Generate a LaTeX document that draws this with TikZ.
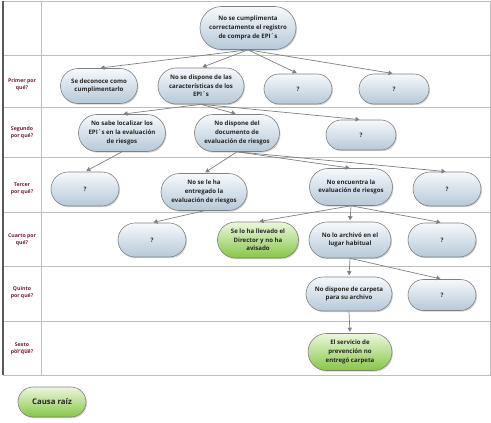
\documentclass[tikz,border=0pt]{standalone}
\usepackage{fontspec}
\setmainfont{Open Sans}
\usetikzlibrary{shapes.misc,shadows,arrows.meta,decorations.pathmorphing}
\definecolor{rahmen}{RGB}{190,190,190}
\definecolor{pfeil}{RGB}{128,128,128}
\definecolor{frage}{RGB}{110,30,50}
\definecolor{blauoben}{RGB}{246,249,252}
\definecolor{blauunten}{RGB}{182,200,216}
\definecolor{gruenoben}{RGB}{236,247,220}
\definecolor{gruenunten}{RGB}{135,198,72}
\tikzset{
  grund/.style={rounded rectangle, draw=pfeil, line width=0.6pt, inner sep=1pt, align=center,
    font=\fontsize{6.1}{8.6}\selectfont\bfseries, text=black!85,
    drop shadow={shadow xshift=1pt, shadow yshift=-1.2pt, opacity=0.35}},
  warum/.style={grund, top color=blauoben, bottom color=blauunten},
  ursache/.style={grund, top color=gruenoben, bottom color=gruenunten},
  frage/.style={align=center, text=frage, font=\fontsize{5.2}{7}\selectfont\bfseries},
  zeiger/.style={draw=pfeil, line width=0.7pt, -{Triangle[width=4.5pt,length=4pt]}, shorten >=1.5pt}
}
\begin{document}
\begin{tikzpicture}[x=1pt,y=1pt]
    \useasboundingbox (0,0) rectangle (491,-423);
    % Tabelle
    \foreach \y in {-55,-107,-157,-212,-266,-321} \draw[rahmen, line width=0.6pt] (3,\y) -- (490,\y);
    \draw[rahmen, line width=0.6pt] (3,-1) -- (490,-1) -- (490,-375) -- (3,-375);         % Rand
    \draw[rahmen, line width=0.6pt] (41,-1) -- (41,-375);                                 % Spalte
    \draw[black!65, line width=1.2pt] (3,-1) -- (3,-375);                                 % linker Rand
    % Fragen
    \node[frage] (q1) at (22,-85)  {Primer por\\qué?};
    \node[frage] (q2) at (22,-133) {Segundo\\por qué?};
    \node[frage] (q3) at (22,-189) {Tercer\\por qué?};
    \node[frage] (q4) at (22,-240) {Cuarto por\\qué?};
    \node[frage] (q5) at (22,-293) {Quinto\\por qué?};
    \node[frage] (q6) at (22,-349) {Sexto\\por qué?};
    \draw[red!80, line width=0.3pt, decorate, decoration={snake, amplitude=0.35pt, segment length=1.6pt}]
        ([xshift=-8pt,yshift=-0.8pt]q6.center) -- ([xshift=8pt,yshift=-0.8pt]q6.center);  % Unterstrich
    % Knoten
    \node[warum, minimum width=98, minimum height=43] (p0) at (248,-28) {No se cumplimenta\\correctamente el registro\\de compra de EPI´s};
    \node[warum, minimum width=79, minimum height=35] (p1a) at (99,-86)  {Se deconoce como\\cumplimentarlo};
    \node[warum, minimum width=88, minimum height=36] (p1b) at (201,-86) {No se dispone de las\\características de los\\EPI´s};
    \node[warum, minimum width=70, minimum height=30] (p1c) at (298,-89) {?};
    \node[warum, minimum width=72, minimum height=30] (p1d) at (394,-89) {?};
    \node[warum, minimum width=89, minimum height=37] (p2a) at (122,-133) {No sabe localizar los\\EPI´s en la evaluación\\de riesgos};
    \node[warum, minimum width=87, minimum height=37] (p2b) at (237,-133) {No dispone del\\documento de\\evaluación de riesgos};
    \node[warum, minimum width=72, minimum height=30] (p2c) at (361,-135) {?};
    \node[warum, minimum width=70, minimum height=34] (p3a) at (85,-189)  {?};
    \node[warum, minimum width=88, minimum height=37] (p3b) at (204,-192) {No se le ha\\entregado la\\evaluación de riesgos};
    \node[warum, minimum width=85, minimum height=37] (p3c) at (351,-187) {No encuentra la\\evaluación de riesgos};
    \node[warum, minimum width=70, minimum height=34] (p3d) at (447,-189) {?};
    \node[warum, minimum width=70, minimum height=34] (p4a) at (152,-240) {?};
    \node[ursache, minimum width=83, minimum height=36] (p4b) at (258,-240) {Se lo ha llevado el\\Director y no ha\\avisado};
    \node[warum, minimum width=84, minimum height=36] (p4c) at (350,-240) {No lo archivó en el\\lugar habitual};
    \node[warum, minimum width=70, minimum height=34] (p4d) at (442,-240) {?};
    \node[warum, minimum width=88, minimum height=34] (p5a) at (349,-294) {No dispone de carpeta\\para su archivo};
    \node[warum, minimum width=70, minimum height=31] (p5b) at (442,-295) {?};
    \node[ursache, minimum width=86, minimum height=37] (p6a) at (350,-352) {El servicio de\\prevención no\\entregó carpeta};
    \node[ursache, minimum width=70, minimum height=30, font=\fontsize{7.8}{9}\selectfont\bfseries] (leg) at (52,-402) {Causa raíz};  % Legende
    % Pfeile
    \foreach \z in {p1a,p1b,p1c,p1d} \draw[zeiger] (p0.south) -- (\z.north);
    \foreach \z in {p2a,p2b,p2c} \draw[zeiger] (p1b.south) -- (\z.north);
    \draw[zeiger] (p2a.south) -- (p3a.north);
    \foreach \z in {p3b,p3c,p3d} \draw[zeiger] (p2b.south) -- (\z.north);
    \draw[zeiger] (p3b.south) -- (p4a.north);
    \foreach \z in {p4b,p4c,p4d} \draw[zeiger] (p3c.south) -- (\z.north);
    \foreach \z in {p5a,p5b} \draw[zeiger] (p4c.south) -- (\z.north);
    \draw[zeiger] (p5a.south) -- (p6a.north);
\end{tikzpicture}
\end{document}
